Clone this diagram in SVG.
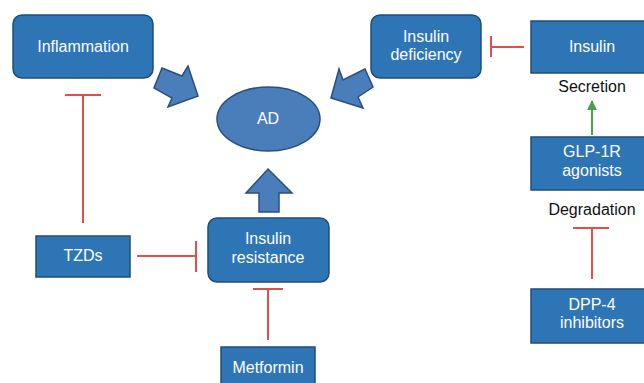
<svg xmlns="http://www.w3.org/2000/svg" width="644" height="383" viewBox="0 0 644 383">
<style>
.box{fill:#2E75B6;stroke:#1F4E79;stroke-width:1.5}
.blk{fill:#4A7EBB;stroke:#2A4F7F;stroke-width:1.5;stroke-linejoin:miter}
.t{font-family:"Liberation Sans",Arial,sans-serif;font-size:16px;fill:#FFFFFF;text-anchor:middle}
.k{font-family:"Liberation Sans",Arial,sans-serif;font-size:16px;fill:#111111;text-anchor:middle}
.inh{stroke:#E0504A;stroke-width:2;fill:none}
.act{stroke:#4CA04C;stroke-width:2;fill:none}
</style>
<defs>
<marker id="ga" markerWidth="10" markerHeight="10" refX="9" refY="5" orient="auto" markerUnits="userSpaceOnUse" viewBox="0 0 10 10">
<path d="M0,0 L10,5 L0,10 Z" fill="#4CA04C"/>
</marker>
</defs>
<rect width="644" height="383" fill="#FFFFFF"/>
<g id="connectors">
<polygon class="blk" points="162,68 182,76 188,66 198,96 168,107 172,98 154,88"/>
<polygon class="blk" points="365,69 343,80 339,69 331,98 363,108 358,97 373,87"/>
<polygon class="blk" points="268,169 292,193 279,193 279,212 259,212 259,193 246,193"/>
<path class="inh" d="M83,223 V95 M65,95 H101"/>
<path class="inh" d="M137,256 H196 M196,241 V272"/>
<path class="inh" d="M268,340 V289 M253,289 H283"/>
<path class="inh" d="M524,47 H491 M491,36 V57"/>
<path class="inh" d="M592,279 V228 M573,228 H609"/>
<path class="act" d="M592,135 V101" marker-end="url(#ga)"/>
</g>
<g id="inflammation">
<rect class="box" x="13" y="15" width="140" height="63" rx="9"/>
<text class="t" x="83" y="52">Inflammation</text>
</g>
<g id="ad">
<ellipse cx="268.5" cy="119" rx="51.5" ry="32" fill="#4A7EBB" stroke="#2A4F7F" stroke-width="1.5"/>
<text class="t" x="268" y="124">AD</text>
</g>
<g id="insulin-deficiency">
<rect class="box" x="371" y="15" width="110" height="63" rx="9"/>
<text class="t" x="426" y="42">Insulin</text>
<text class="t" x="426" y="60">deficiency</text>
</g>
<g id="insulin">
<rect class="box" x="531" y="21" width="130" height="52"/>
<text class="t" x="592" y="52">Insulin</text>
</g>
<g id="secretion">
<text class="k" x="592" y="92">Secretion</text>
</g>
<g id="glp1r">
<rect class="box" x="531" y="137" width="130" height="53"/>
<text class="t" x="592" y="157">GLP-1R</text>
<text class="t" x="592" y="176">agonists</text>
</g>
<g id="degradation">
<text class="k" x="592" y="215">Degradation</text>
</g>
<g id="dpp4">
<rect class="box" x="531" y="289" width="130" height="54"/>
<text class="t" x="592" y="310">DPP-4</text>
<text class="t" x="592" y="328">inhibitors</text>
</g>
<g id="tzds">
<rect class="box" x="36" y="236" width="94" height="41"/>
<text class="t" x="83" y="261">TZDs</text>
</g>
<g id="insulin-resistance">
<rect class="box" x="208" y="218" width="121" height="64" rx="9"/>
<text class="t" x="268" y="244">Insulin</text>
<text class="t" x="268" y="263">resistance</text>
</g>
<g id="metformin">
<rect class="box" x="221" y="347" width="94" height="45"/>
<text class="t" x="268" y="373">Metformin</text>
</g>
</svg>
